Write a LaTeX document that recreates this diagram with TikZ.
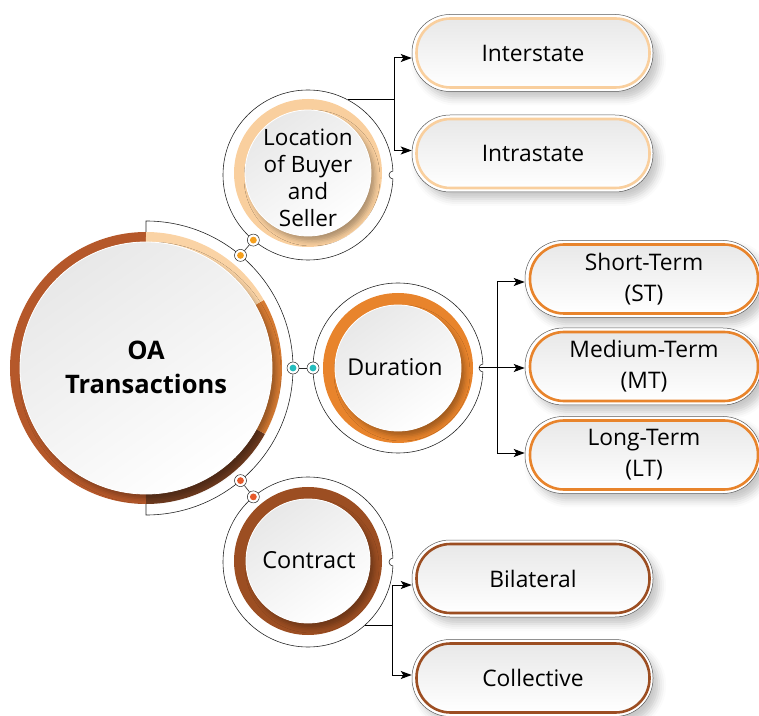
\documentclass[tikz,border=0pt]{standalone}
\usepackage{fontspec}
\setmainfont{Open Sans}
\usetikzlibrary{shadows.blur,arrows.meta}
\definecolor{ringrust}{HTML}{B5582A}
\definecolor{ringorange}{HTML}{D57A32}
\definecolor{ringdark}{HTML}{6F3B1F}
\definecolor{ringpeach}{HTML}{FAD3A5}
\definecolor{locpeach}{HTML}{F9CF9E}
\definecolor{durorange}{HTML}{E8842C}
\definecolor{conbrown}{HTML}{9C4E22}
\definecolor{dotorange}{HTML}{F5A01E}
\definecolor{dotteal}{HTML}{25BDBE}
\definecolor{dotred}{HTML}{E65A2B}
\begin{document}
\begin{tikzpicture}[x=1pt,y=1pt,
 thinline/.style={draw=black!85,line width=0.6pt},
 diskshade/.style={circle,inner sep=0pt,top color=black!9,bottom color=white,shading angle=35,draw=white,line width=0.8pt,
   blur shadow={shadow xshift=4pt,shadow yshift=-5pt,shadow opacity=30,shadow blur radius=5pt}},
 dotnode/.style={circle,minimum size=12pt,inner sep=0pt,fill=white,draw=black!85,line width=0.5pt,
   path picture={\fill[#1] (path picture bounding box.center) circle[radius=3.4pt];}},
 pillouter/.style={rectangle,rounded corners=38pt,minimum width=241pt,minimum height=77pt,inner sep=0pt,
   draw=black!65,line width=0.5pt,fill=white,
   blur shadow={shadow xshift=6pt,shadow yshift=-7pt,shadow opacity=22,shadow blur radius=7pt}},
 pillinner/.style={rectangle,rounded corners=34pt,minimum width=233pt,minimum height=69pt,inner sep=0pt,
   draw=#1,line width=2.6pt,top color=black!9,bottom color=white,align=center,
   font=\fontsize{22.8}{31}\selectfont},
 circtext/.style={align=center,font=\fontsize{22.5}{27}\selectfont},
 conn/.style={line width=1pt,draw=black},
 arr/.style={conn,-{Stealth[length=11pt,width=8pt,inset=2.5pt]}},
]
\useasboundingbox (0,0) rectangle (759,715);

% ---------- coordinates of circle centres
\coordinate (M) at (146,347);
\coordinate (L) at (308,540);
\coordinate (D) at (398,347);
\coordinate (C) at (308,153);

% ---------- thin outlines
\draw[thinline] ([shift={(90:136)}]M) -- ([shift={(90:147)}]M)
   arc[start angle=90,end angle=-90,radius=147] -- ([shift={(-90:136)}]M);
\draw[thinline] (L) circle[radius=85];
\draw[thinline] (D) circle[radius=85];
\draw[thinline] (C) circle[radius=85];

% ---------- notches
\foreach \p in {(393,540),(483,347),(393,153)}{
  \fill[white] \p circle[radius=4];
  \draw[thinline] \p ++(0,4) arc[start angle=90,end angle=270,radius=4];
}

% ---------- main circle
\draw[ringrust,line width=10pt] ([shift={(90:131)}]M) arc[start angle=90,end angle=270,radius=131];
\draw[ringdark,line width=10pt] ([shift={(-90:131)}]M) arc[start angle=-90,end angle=-29,radius=131];
\draw[ringorange,line width=10pt] ([shift={(-29:131)}]M) arc[start angle=-29,end angle=30,radius=131];
\draw[ringpeach,line width=10pt] ([shift={(30:131)}]M) arc[start angle=30,end angle=90,radius=131];
\node[diskshade,minimum size=252pt] (main) at (M) {};
\node[align=center,font=\bfseries\fontsize{25.5}{34}\selectfont] (maintext) at (146,348) {OA\\Transactions};

% ---------- location
\draw[locpeach,line width=11pt] (308,542) circle[radius=68.5];
\node[diskshade,minimum size=126pt] (loc) at (308,542) {};
\node[circtext] (loctext) at (308,537) {Location\\of Buyer\\and\\Seller};

% ---------- duration
\draw[durorange,line width=12pt] (D) circle[radius=69];
\node[diskshade,minimum size=126pt] (dur) at (D) {};
\node[circtext,font=\fontsize{23.2}{27}\selectfont] (durtext) at (395,348) {Duration};

% ---------- contract
\draw[conbrown,line width=12pt] (308,154) circle[radius=68];
\node[diskshade,minimum size=124pt] (con) at (308,154) {};
\node[circtext,font=\fontsize{23.5}{27}\selectfont] (context) at (309,155) {Contract};

% ---------- link dots
\node[dotnode=dotorange] (a1) at ([shift={(50:147)}]M) {};
\node[dotnode=dotorange] (a2) at ([shift={(230:85)}]L) {};
\draw[thinline] (a1) -- (a2);
\node[dotnode=dotteal] (t1) at ([shift={(0:147)}]M) {};
\node[dotnode=dotteal] (t2) at ([shift={(180:85)}]D) {};
\draw[thinline] (t1) -- (t2);
\node[dotnode=dotred] (b1) at ([shift={(-50:147)}]M) {};
\node[dotnode=dotred] (b2) at ([shift={(130:85)}]C) {};
\draw[thinline] (b1) -- (b2);

% ---------- pills
\node[pillouter] (inter) at (532.5,662) {};
\node[pillinner=locpeach] (interi) at (533,662) {Interstate};
\node[pillouter] (intra) at (532.5,561.5) {};
\node[pillinner=locpeach] (intrai) at (533,561.5) {Intrastate};

\node[pillouter,minimum width=236pt] (st) at (643,436) {};
\node[pillinner=durorange,minimum width=228pt] (sti) at (644,436) {Short-Term\\(ST)};
\node[pillouter,minimum width=236pt] (mt) at (643,348.5) {};
\node[pillinner=durorange,minimum width=228pt] (mti) at (644,348.5) {Medium-Term\\(MT)};
\node[pillouter,minimum width=236pt] (lt) at (643,260) {};
\node[pillinner=durorange,minimum width=228pt] (lti) at (644,260) {Long-Term\\(LT)};

\node[pillouter] (bil) at (532.5,136.5) {};
\node[pillinner=conbrown] (bili) at (533,136.5) {Bilateral};
\node[pillouter] (col) at (532.5,37) {};
\node[pillinner=conbrown] (coli) at (533,37) {Collective};

% ---------- connectors
\coordinate (lstart) at ([shift={(62:85)}]L);
\path (lstart) ++(47,0) coordinate (lj);
\draw[conn] (lstart) -- (lj);
\draw[arr] (lj) |- ([yshift=-5pt]inter.west);
\draw[arr] (lj) |- ([yshift=3pt]intra.west);

\coordinate (dstart) at (479,347);
\coordinate (dj) at (497,347);
\draw[conn] (dstart) -- (dj);
\draw[arr] (dj) |- ([yshift=-3pt]st.west);
\draw[arr] (dj) |- ([yshift=-1.5pt]mt.west);
\draw[arr] (dj) |- ([yshift=2pt]lt.west);

\coordinate (cstart) at ([shift={(-48:85)}]C);
\path (cstart) ++(28,0) coordinate (cj);
\draw[conn] (cstart) -- (cj);
\draw[arr] (cj) |- ([yshift=-6.5pt]bil.west);
\draw[arr] (cj) |- ([yshift=3pt]col.west);
\end{tikzpicture}
\end{document}
